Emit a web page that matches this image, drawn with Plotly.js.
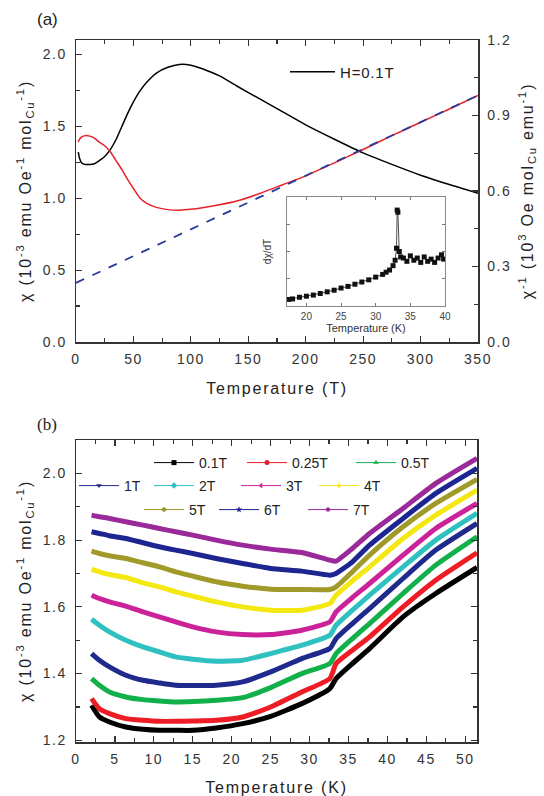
<!DOCTYPE html>
<html><head><meta charset="utf-8">
<script src="https://cdn.plot.ly/plotly-3.0.1.min.js"></script>
<style>html,body{margin:0;padding:0;background:#fff}#chart{width:544px;height:796px}
.xtitle,.x2title,.ytitle,.y2title,.y3title{letter-spacing:1.8px}
.xtick text,.x2tick text,.ytick text,.y2tick text,.y3tick text{letter-spacing:1.5px}
.legendtext{letter-spacing:0.8px}
</style>
</head><body><div id="chart"></div>
<script>
// ---------- Panel (a) data ----------
const T_a = [2,3,5,8,12,16,20,25,30,35,40,45,50,56,62,70,80,90,100,110,125,140,160,180,200,225,250,275,300,325,350];
const chi_a = [1.32,1.28,1.245,1.235,1.235,1.24,1.26,1.29,1.34,1.41,1.50,1.59,1.67,1.75,1.81,1.87,1.91,1.93,1.925,1.90,1.85,1.78,1.69,1.60,1.51,1.41,1.315,1.235,1.16,1.095,1.035];
const invchi_a = [0.795,0.805,0.815,0.82,0.818,0.81,0.795,0.78,0.755,0.72,0.685,0.645,0.61,0.57,0.55,0.535,0.526,0.524,0.527,0.533,0.545,0.56,0.59,0.625,0.66,0.712,0.765,0.82,0.873,0.926,0.98];
const fit_T = [0,350];
const fit_inv = [0.235,0.98];
const legend_a = 'H=0.1T';

// inset: dchi/dT (arb. units)
const T_in = [17.4,18,19,20,21,22,23,24,25,26,27,28,29,30,31,31.5,32,32.5,32.8,33.0,33.1,33.2,33.4,33.6,34,34.5,35,35.5,36,36.5,37,37.5,38,38.5,39,39.5,39.8];
const dchi_in = [0.06,0.065,0.08,0.09,0.10,0.115,0.13,0.145,0.165,0.18,0.2,0.22,0.24,0.265,0.29,0.31,0.33,0.37,0.42,0.53,0.88,0.86,0.5,0.45,0.44,0.41,0.46,0.42,0.44,0.40,0.45,0.41,0.43,0.40,0.44,0.47,0.43];

// ---------- Panel (b) data ----------
const T_b = [2,3,4.3,6.4,8.6,10.7,12.8,15,18,21.4,25,29,32.6,33.4,35.5,37.7,42,46.2,51.5];
const fields = ['0.1T','0.25T','0.5T','1T','2T','3T','4T','5T','6T','7T'];
const chi_01T = [1.305,1.27,1.255,1.24,1.233,1.23,1.23,1.23,1.237,1.25,1.272,1.31,1.355,1.385,1.43,1.475,1.57,1.64,1.718];
const chi_025T = [1.325,1.295,1.28,1.265,1.26,1.257,1.257,1.258,1.26,1.27,1.30,1.345,1.385,1.43,1.47,1.51,1.60,1.68,1.762];
const chi_05T = [1.385,1.365,1.345,1.33,1.322,1.318,1.315,1.316,1.32,1.328,1.358,1.40,1.43,1.46,1.505,1.55,1.64,1.725,1.81];
const chi_1T = [1.46,1.44,1.42,1.395,1.38,1.372,1.365,1.364,1.365,1.375,1.405,1.445,1.475,1.505,1.55,1.595,1.685,1.77,1.85];
const chi_2T = [1.563,1.545,1.525,1.50,1.48,1.465,1.45,1.443,1.437,1.44,1.46,1.485,1.515,1.545,1.59,1.635,1.72,1.80,1.88];
const chi_3T = [1.635,1.625,1.615,1.602,1.585,1.57,1.555,1.54,1.525,1.517,1.517,1.53,1.555,1.585,1.628,1.67,1.755,1.835,1.91];
const chi_4T = [1.712,1.705,1.697,1.688,1.672,1.66,1.645,1.632,1.615,1.60,1.59,1.59,1.61,1.635,1.678,1.72,1.805,1.875,1.95];
const chi_5T = [1.767,1.76,1.753,1.745,1.732,1.72,1.705,1.692,1.675,1.662,1.653,1.652,1.652,1.66,1.705,1.755,1.84,1.91,1.982];
const chi_6T = [1.825,1.82,1.813,1.805,1.792,1.78,1.77,1.76,1.745,1.73,1.715,1.707,1.695,1.70,1.735,1.785,1.865,1.94,2.015];
const chi_7T = [1.875,1.87,1.865,1.855,1.845,1.835,1.825,1.815,1.80,1.785,1.773,1.763,1.74,1.737,1.775,1.82,1.895,1.97,2.045];
const chi_b = [chi_01T,chi_025T,chi_05T,chi_1T,chi_2T,chi_3T,chi_4T,chi_5T,chi_6T,chi_7T];

// ---------- styles / positions ----------
const colors = ['#000000','#ee1c24','#12b04a','#1f2a8c','#30c0c0','#cc2299','#f5e812','#a09a2a','#1c2590','#9a2a9a'];
const symbols = ['square','circle','triangle-up','triangle-down','diamond','triangle-left','triangle-right','hexagon','star','pentagon'];
// legend item left-edge (px) and row center (px)
const legPos = [[149,463],[242,463],[351,463],[74,486],[149,486],[236,486],[314,486],[139,510],[214,510],[303,510]];

const W=544,H=796;
const px = v=>v/W, py = v=>1-v/H;
const axCol='#333';
const tickFont={family:'Liberation Sans, Arial, sans-serif',size:14,color:'#333'};
const titleFont={family:'Liberation Sans, Arial, sans-serif',size:16,color:'#222'};

const traces=[];
traces.push({x:T_a,y:chi_a,xaxis:'x',yaxis:'y',mode:'lines',name:legend_a,line:{color:'#000',width:1.5,shape:'spline',smoothing:0.6},legend:'legend',showlegend:true});
traces.push({x:T_a,y:invchi_a,xaxis:'x',yaxis:'y2',mode:'lines',line:{color:'#e8202a',width:1.5,shape:'spline',smoothing:0.6},showlegend:false});
traces.push({x:fit_T,y:fit_inv,xaxis:'x',yaxis:'y2',mode:'lines',line:{color:'#2b3a9a',width:1.8,dash:'dash'},showlegend:false});
traces.push({x:T_in,y:dchi_in,xaxis:'x3',yaxis:'y4',mode:'lines+markers',line:{color:'#222',width:0.8},marker:{symbol:'square',size:5,color:'#111'},showlegend:false});

fields.forEach((f,i)=>{
  traces.push({x:T_b,y:chi_b[i],xaxis:'x2',yaxis:'y3',mode:'lines',line:{color:colors[i],width:5,shape:'spline',smoothing:0.5},showlegend:false,name:f});
});
const layout={
  width:W,height:H,margin:{l:0,r:0,t:0,b:0},paper_bgcolor:'#fff',plot_bgcolor:'rgba(0,0,0,0)',
  font:{family:'Liberation Sans, Arial, sans-serif',color:'#222'},
  xaxis:{domain:[px(76),px(478)],anchor:'y',range:[0,350],dtick:50,ticks:'inside',ticklen:6,tickwidth:1.2,tickcolor:axCol,
    minor:{dtick:25,ticks:'inside',ticklen:4,tickcolor:axCol},showline:true,linecolor:axCol,linewidth:1.5,mirror:'ticks',showgrid:false,zeroline:false,
    tickfont:tickFont,ticklabelstandoff:4,title:{text:'Temperature (T)',font:titleFont,standoff:16}},
  yaxis:{domain:[py(342),py(40)],anchor:'x',range:[0,2.1],dtick:0.5,tickformat:'.1f',ticks:'inside',ticklen:6,tickwidth:1.2,tickcolor:axCol,
    minor:{dtick:0.25,ticks:'inside',ticklen:4,tickcolor:axCol},showline:true,linecolor:axCol,linewidth:1.5,showgrid:false,zeroline:false,
    tickfont:tickFont,ticklabelstandoff:5,title:{text:'χ (10<sup>-3</sup> emu Oe<sup>-1</sup> mol<sub>Cu</sub><sup>-1</sup>)',font:titleFont,standoff:7}},
  yaxis2:{overlaying:'y',side:'right',anchor:'x',range:[0,1.2],dtick:0.3,tickformat:'.1f',ticks:'inside',ticklen:6,tickwidth:1.2,tickcolor:axCol,
    minor:{dtick:0.15,ticks:'inside',ticklen:4,tickcolor:axCol},showline:true,linecolor:axCol,linewidth:1.5,showgrid:false,zeroline:false,
    tickfont:tickFont,ticklabelstandoff:5,title:{text:'χ<sup>-1</sup> (10<sup>3</sup> Oe mol<sub>Cu</sub> emu<sup>-1</sup>)',font:titleFont,standoff:11}},
  xaxis3:{domain:[px(287),px(445)],anchor:'y4',range:[17.2,40],dtick:5,ticks:'inside',ticklen:3,tickcolor:'#777',showline:true,linecolor:'#888',linewidth:1,mirror:'ticks',
    showgrid:false,zeroline:false,tickfont:{family:'Liberation Sans, Arial, sans-serif',size:10,color:'#444'},ticklabelstandoff:1,
    title:{text:'Temperature (K)',font:{family:'Liberation Sans, Arial, sans-serif',size:11,color:'#333'},standoff:0}},
  yaxis4:{domain:[py(306),py(197)],anchor:'x3',range:[0,1],dtick:0.25,ticks:'inside',ticklen:3,tickcolor:'#777',showline:true,linecolor:'#888',linewidth:1,mirror:'ticks',
    showticklabels:false,showgrid:false,zeroline:false,
    title:{text:'dχ/dT',font:{family:'Liberation Sans, Arial, sans-serif',size:10,color:'#333'},standoff:12}},
  xaxis2:{domain:[px(76),px(477)],anchor:'y3',range:[0,51.5],dtick:5,ticks:'inside',ticklen:6,tickwidth:1.2,tickcolor:axCol,
    minor:{dtick:2.5,ticks:'inside',ticklen:4,tickcolor:axCol},showline:true,linecolor:axCol,linewidth:1.5,mirror:'ticks',showgrid:false,zeroline:false,
    tickfont:tickFont,ticklabelstandoff:4,title:{text:'Temperature (K)',font:titleFont,standoff:16}},
  yaxis3:{domain:[py(742),py(440)],anchor:'x2',range:[1.195,2.1],dtick:0.2,tick0:1.2,tickformat:'.1f',ticks:'inside',ticklen:6,tickwidth:1.2,tickcolor:axCol,
    minor:{dtick:0.1,ticks:'inside',ticklen:4,tickcolor:axCol},showline:true,linecolor:axCol,linewidth:1.5,mirror:'ticks',showgrid:false,zeroline:false,
    tickfont:tickFont,ticklabelstandoff:5,title:{text:'χ (10<sup>-3</sup> emu Oe<sup>-1</sup> mol<sub>Cu</sub><sup>-1</sup>)',font:titleFont,standoff:7}},
  legend:{x:px(285),y:py(72),xanchor:'left',yanchor:'middle',bgcolor:'rgba(0,0,0,0)',borderwidth:0,
    font:{family:'Liberation Sans, Arial, sans-serif',size:15,color:'#222'},itemwidth:45},
  annotations:[
    {text:'(a)',x:px(35),y:py(19),xref:'paper',yref:'paper',xanchor:'left',yanchor:'middle',showarrow:false,font:{family:'Liberation Sans, Arial, sans-serif',size:17,color:'#222'}},
    {text:'(b)',x:px(35),y:py(425),xref:'paper',yref:'paper',xanchor:'left',yanchor:'middle',showarrow:false,font:{family:'Liberation Serif, Times New Roman, serif',size:17,color:'#222'}}
  ]
};
fields.forEach((f,i)=>{
  const key = 'legend'+(i+2);
  traces.push({x:[null],y:[null],xaxis:'x2',yaxis:'y3',mode:'lines+markers',name:f,legend:key,showlegend:true,
    line:{color:colors[i],width:1},marker:{color:colors[i],symbol:symbols[i],size:5}});
  layout[key]={x:px(legPos[i][0]),y:py(legPos[i][1]),xanchor:'left',yanchor:'middle',bgcolor:'rgba(0,0,0,0)',borderwidth:0,
    font:{family:'Liberation Sans, Arial, sans-serif',size:14,color:'#222'},itemwidth:40};
});
Plotly.newPlot('chart',traces,layout,{displayModeBar:false,staticPlot:true});
</script></body></html>
